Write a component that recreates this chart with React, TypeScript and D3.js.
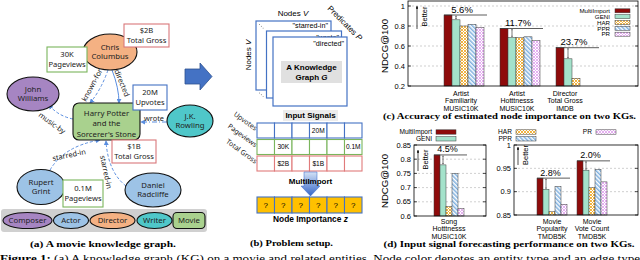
import React from "react";
import * as d3 from "d3";

// ---- chart data ----
const seriesNames = ["MultiImport", "GENI", "HAR", "PPR", "PR"];
const seriesFill = ["#8e0b0b", "#a4e2cb", "url(#pHAR)", "url(#pPPR)", "url(#pPR)"];

const accCategories = [
  ["Artist", "Familiarity", "MUSIC10K"],
  ["Artist", "Hotttnesss", "MUSIC10K"],
  ["Director", "Total Gross", "IMDB"],
];
const accMultiImport = [0.91, 0.775, 0.583];
const accGENI = [0.862, 0.685, 0.472];
const accHAR = [0.8, 0.683, 0.277];
const accPPR = [0.817, 0.692, NaN];
const accPR = [0.785, 0.655, NaN];
const accGain = ["5.6%", "11.7%", "23.7%"];
const accTicks = [0.2, 0.4, 0.6, 0.8, 1];

const songCategories = [["Song", "Hotttnesss", "MUSIC10K"]];
const songMultiImport = [0.815];
const songGENI = [0.78];
const songHAR = [0.633];
const songPPR = [0.75];
const songPR = [0.627];
const songGain = ["4.5%"];
const songTicks = [0.6, 0.65, 0.7, 0.75, 0.8, 0.85];

const movieCategories = [
  ["Movie", "Popularity", "TMDB5K"],
  ["Movie", "Vote Count", "TMDB5K"],
];
const movieMultiImport = [0.929, 0.966];
const movieGENI = [0.905, 0.946];
const movieHAR = [0.857, 0.909];
const moviePPR = [0.911, 0.948];
const moviePR = [0.873, 0.921];
const movieGain = ["2.8%", "2.0%"];
const movieTicks = [0.85, 0.9, 0.95, 1];

// ---- problem setup data ----
const signalNames = ["Upvotes", "Pageviews", "Total Gross"];
const upvotesRow = ["", "", "", "20M", "", ""];
const pageviewsRow = ["", "30K", "", "", "", "0.1M"];
const grossRow = ["", "$2B", "", "$1B", "", ""];
const importanceRow = ["?", "?", "?", "?", "?", "?"];

const SANS = "Liberation Sans, Arial, sans-serif";
const NODE = "Noto Sans, Open Sans, sans-serif";
const SERIF = "Liberation Serif, Times New Roman, serif";
const BLUE = "#4472c4";
const EDGE = "#5a8ee0";

function BarPanel({ cats, series, gains, ticks, band, pi, po, yDomain, frame, labelShift, better, catY, gainSize }) {
  const x0 = d3.scaleBand().domain(cats.map((_, i) => String(i))).range(band).paddingInner(pi).paddingOuter(po);
  const x1 = d3.scaleBand().domain(seriesNames).range([0, x0.bandwidth()]);
  const y = d3.scaleLinear().domain(yDomain).range([frame.y1, frame.y0 + (frame.top || 0)]);
  const fmt = (v) => String(+v.toFixed(2));
  return (
    <g fontFamily={SANS}>
      {ticks.map((t) => (
        <g key={t}>
          {y(t) > frame.y0 + 1 && y(t) < frame.y1 - 1 && (
            <line x1={frame.x0} x2={frame.x1} y1={y(t)} y2={y(t)} stroke="#b0b0b0" strokeWidth={0.6} strokeDasharray="2 2" />
          )}
          <line x1={frame.x0} x2={frame.x0 + 3} y1={y(t)} y2={y(t)} stroke="#000" strokeWidth={0.7} />
          <line x1={frame.x1 - 3} x2={frame.x1} y1={y(t)} y2={y(t)} stroke="#000" strokeWidth={0.7} />
          <text x={frame.x0 - 3} y={y(t)} dy="0.35em" textAnchor="end" fontSize={7.5}>{fmt(t)}</text>
        </g>
      ))}
      {cats.map((cat, i) => {
        const gx = x0(String(i));
        const present = series.filter((s) => !isNaN(s[i])).length;
        const cx = gx + (x1.step() * present) / 2 + labelShift;
        const mi = series[0][i];
        const ge = series[1][i];
        const ax = gx + x1("GENI") + x1.bandwidth() / 2;
        return (
          <g key={i}>
            {series.map((s, k) =>
              isNaN(s[i]) ? null : (
                <rect key={k} x={gx + x1(seriesNames[k])} y={y(s[i])} width={x1.bandwidth()} height={frame.y1 - y(s[i])}
                  fill={seriesFill[k]} stroke="#3a3a3a" strokeWidth={0.5} />
              )
            )}
            <line x1={gx} x2={gx + x0.bandwidth() + 3} y1={y(mi)} y2={y(mi)} stroke="#333" strokeWidth={0.8} />
            <line x1={ax} x2={ax} y1={y(mi) + 0.6} y2={y(ge) - 0.6} stroke="#222" strokeWidth={0.6}
              markerStart="url(#tipUp)" markerEnd="url(#tipDown)" />
            <text x={gx + x0.bandwidth() * 0.45} y={y(mi) - 2.5} textAnchor="middle" fontSize={gainSize}>{gains[i]}</text>
            {cat.map((line, j) => (
              <text key={j} x={cx} y={catY + j * 7.6} textAnchor="middle" fontSize={7}>{line}</text>
            ))}
          </g>
        );
      })}
      <rect x={frame.x0} y={frame.y0} width={frame.x1 - frame.x0} height={frame.y1 - frame.y0} fill="none" stroke="#000" strokeWidth={0.8} />
      <line x1={better.x} x2={better.x} y1={better.y1} y2={better.y0 + 2} stroke="#000" strokeWidth={0.7} markerEnd="url(#tipUpBig)" />
      <text transform={`translate(${better.x + 7},${(better.y0 + better.y1) / 2}) rotate(-90)`} textAnchor="middle" dy="0.35em" fontSize={7.5}>Better</text>
    </g>
  );
}

function Swatch({ x, y, w, h, k }) {
  return <rect x={x} y={y - h / 2} width={w} height={h} fill={seriesFill[k]} stroke="#3a3a3a" strokeWidth={0.5} />;
}

function Ell({ cx, cy, rx, ry, fill, lines, size = 7.8, dy = 9.5 }) {
  const start = cy - ((lines.length - 1) * dy) / 2;
  return (
    <g>
      <ellipse cx={cx} cy={cy} rx={rx} ry={ry} fill={fill} stroke="#111" strokeWidth={1.1} />
      {lines.map((l, i) => (
        <text key={i} x={cx} y={start + i * dy} dy="0.35em" textAnchor="middle" fontSize={size} fill="#222">{l}</text>
      ))}
    </g>
  );
}

function Box({ x, y, w, h, stroke, lines }) {
  const cy = y + h / 2;
  return (
    <g>
      <rect x={x} y={y} width={w} height={h} fill="#fff" stroke={stroke} strokeWidth={1.1} />
      {lines.map((l, i) => (
        <text key={i} x={x + w / 2} y={cy + (i - (lines.length - 1) / 2) * 10} dy="0.35em" textAnchor="middle" fontSize={7.6} fill="#222">{l}</text>
      ))}
    </g>
  );
}

function EdgeLabel({ x, y, rot, text }) {
  return (
    <text transform={`translate(${x},${y}) rotate(${rot})`} textAnchor="middle" dy="0.35em" fontSize={7.4} fill="#222">{text}</text>
  );
}

export default function App() {
  const rows = [upvotesRow, pageviewsRow, grossRow];
  const rowColors = [BLUE, "#7ab55c", "#e07b7b"];
  const rowY = [123, 139.5, 156];
  const cellW = 17.5;
  const tableX = d3.scaleLinear().domain([0, 6]).range([257, 362]);

  return (
    <svg width={640} height={260} style={{ position: "absolute", left: 0, top: 0, background: "#fff" }} fontFamily={NODE}>
      <defs>
        <pattern id="pHAR" width="3" height="3" patternUnits="userSpaceOnUse">
          <rect width="3" height="3" fill="#fff" />
          <path d="M0,0 L3,3 M3,0 L0,3" stroke="#f0ad2e" strokeWidth="0.9" />
        </pattern>
        <pattern id="pPPR" width="3" height="3" patternUnits="userSpaceOnUse" patternTransform="rotate(-45)">
          <rect width="3" height="3" fill="#fff" />
          <line x1="0.8" y1="0" x2="0.8" y2="3" stroke="#6aa3da" strokeWidth="1.3" />
        </pattern>
        <pattern id="pPR" width="3" height="3" patternUnits="userSpaceOnUse">
          <rect width="3" height="3" fill="#fff" />
          <path d="M0,0 L3,3 M3,0 L0,3" stroke="#e2a6ef" strokeWidth="0.9" />
        </pattern>
        <marker id="ah" viewBox="0 0 6 6" refX="5" refY="3" markerWidth="5" markerHeight="5" orient="auto">
          <path d="M0,0 L6,3 L0,6 z" fill={EDGE} />
        </marker>
        <marker id="tipUp" viewBox="0 0 4 4" refX="2" refY="0" markerWidth="3" markerHeight="3" orient="0">
          <path d="M0,3 L2,0 L4,3" fill="none" stroke="#222" strokeWidth="0.8" />
        </marker>
        <marker id="tipDown" viewBox="0 0 4 4" refX="2" refY="4" markerWidth="3" markerHeight="3" orient="0">
          <path d="M0,1 L2,4 L4,1" fill="none" stroke="#222" strokeWidth="0.8" />
        </marker>
        <marker id="tipUpBig" viewBox="0 0 4 4" refX="2" refY="0" markerWidth="4" markerHeight="4" orient="0">
          <path d="M0,4 L2,0 L4,4 z" fill="#000" />
        </marker>
        <linearGradient id="downGrad" x1="0" y1="0" x2="0" y2="1">
          <stop offset="0" stopColor="#d3e2f6" />
          <stop offset="1" stopColor="#3566c8" />
        </linearGradient>
      </defs>

      {/* ---------- (a) knowledge graph ---------- */}
      <g>
        <path d="M108,70 Q101,90 90,103" fill="none" stroke={EDGE} strokeWidth={1} strokeDasharray="3 2" markerEnd="url(#ah)" />
        <path d="M112,70 Q119,88 119,103" fill="none" stroke={EDGE} strokeWidth={1} markerEnd="url(#ah)" />
        <path d="M73,119 Q58,116 49,105" fill="none" stroke={EDGE} strokeWidth={1} strokeDasharray="3 2" markerEnd="url(#ah)" />
        <path d="M167,122 L141,122" fill="none" stroke={EDGE} strokeWidth={1} strokeDasharray="5 2 1 2" markerEnd="url(#ah)" />
        <path d="M50,170 Q64,146 100,140" fill="none" stroke={EDGE} strokeWidth={1} strokeDasharray="3 2" markerEnd="url(#ah)" />
        <path d="M126,186 Q108,172 106,141" fill="none" stroke={EDGE} strokeWidth={1} strokeDasharray="3 2" markerEnd="url(#ah)" />

        <EdgeLabel x={92} y={85} rot={-62} text="known-for" />
        <EdgeLabel x={122} y={83} rot={68} text="directed" />
        <EdgeLabel x={52} y={123} rot={36} text="music-by" />
        <EdgeLabel x={154} y={118} rot={0} text="wrote" />
        <EdgeLabel x={69} y={155} rot={-12} text="starred-in" />
        <EdgeLabel x={106} y={172} rot={78} text="starred-in" />

        <Ell cx={110} cy={52} rx={27} ry={18} fill="#f4b183" lines={["Chris", "Columbus"]} />
        <Ell cx={33} cy={94} rx={26} ry={17} fill="#a685c2" lines={["John", "Williams"]} />
        <Ell cx={190} cy={121} rx={23} ry={16} fill="#4fc7c9" lines={["J.K.", "Rowling"]} />
        <Ell cx={41} cy={187} rx={24} ry={17.5} fill="#9dc3e6" lines={["Rupert", "Grint"]} />
        <Ell cx={153} cy={190} rx={28} ry={17} fill="#9dc3e6" lines={["Daniel", "Radcliffe"]} />

        <rect x={73} y={103} width={67} height={37} rx={6} fill="#a9d18e" stroke="#111" strokeWidth={1.1} />
        {["Harry Potter", "and the", "Sorcerer's Stone"].map((l, i) => (
          <text key={i} x={106.5} y={113 + i * 10.5} dy="0.35em" textAnchor="middle" fontSize={7.8} fill="#222">{l}</text>
        ))}

        <Box x={124} y={24} w={45} h={23} stroke="#d9777a" lines={["$2B", "Total Gross"]} />
        <Box x={47} y={47} w={40} h={25} stroke="#7ab55c" lines={["30K", "Pageviews"]} />
        <Box x={133} y={85} w={34} h={25} stroke={BLUE} lines={["20M", "Upvotes"]} />
        <Box x={112} y={140} w={44} h={23} stroke="#d9777a" lines={["$1B", "Total Gross"]} />
        <Box x={63} y={180} w={40} h={27} stroke="#7ab55c" lines={["0.1M", "Pageviews"]} />

        <rect x={1} y={209} width={206} height={23} rx={3} fill="#d0d0d0" />
        <Ell cx={27.5} cy={220.5} rx={24.5} ry={8} fill="#a685c2" lines={["Composer"]} size={7.8} />
        <Ell cx={71} cy={220.5} rx={17.5} ry={8} fill="#9dc3e6" lines={["Actor"]} size={7.8} />
        <Ell cx={112.5} cy={220.5} rx={22.5} ry={8} fill="#f4b183" lines={["Director"]} size={7.8} />
        <Ell cx={154.5} cy={220.5} rx={17.5} ry={8} fill="#4fc7c9" lines={["Writer"]} size={7.8} />
        <rect x={173} y={212.5} width={32} height={16} rx={4} fill="#a9d18e" stroke="#111" strokeWidth={1.1} />
        <text x={189} y={220.5} dy="0.35em" textAnchor="middle" fontSize={7.8} fill="#222">Movie</text>

        <text x={103} y={247} textAnchor="middle" fontFamily={SERIF} fontWeight="bold" fontSize={9} textLength={146} lengthAdjust="spacingAndGlyphs">(a) A movie knowledge graph.</text>
      </g>

      {/* big arrow */}
      <polygon points="185,69 200,69 200,63 212,76.5 200,90 200,84 185,84" fill={BLUE} stroke="#2f528f" strokeWidth={0.8} />

      {/* ---------- (b) problem setup ---------- */}
      <g>
        <text x={293} y={13} dy="0.35em" textAnchor="middle" fontSize={8} fontFamily={SANS}>Nodes <tspan fontStyle="italic">V</tspan></text>
        <text transform="translate(248,55) rotate(-90)" textAnchor="middle" dy="0.35em" fontSize={8} fontFamily={SANS}>Nodes <tspan fontStyle="italic">V</tspan></text>
        <text transform="translate(345,23) rotate(45)" textAnchor="middle" dy="0.35em" fontSize={8} fontFamily={SANS}>Predicates <tspan fontStyle="italic">P</tspan></text>

        <rect x={256} y={21} width={75} height={69} fill="#fff" stroke={BLUE} strokeWidth={1.2} />
        <text x={328} y={28} textAnchor="end" fontSize={7.2} fontFamily={SANS}>"starred-in"</text>
        <rect x={266.5} y={31} width={75} height={67} fill="#fff" stroke={BLUE} strokeWidth={1.2} />
        <text x={339} y={39.5} textAnchor="end" fontSize={7.2} fontFamily={SANS}>"wrote"</text>
        <rect x={273} y={37} width={74} height={69} fill="#fff" stroke={BLUE} strokeWidth={1.2} />
        <text x={344} y={46} textAnchor="end" fontSize={7.2} fontFamily={SANS}>"directed"</text>
        {[0, 1, 2].map((i) => (
          <g key={i}>
            <circle cx={259.5 + i * 1.8} cy={24.5 + i * 1.8} r={0.45} fill="#333" />
            <circle cx={259.5 + i * 1.8} cy={93 + i * 1.8} r={0.45} fill="#333" />
          </g>
        ))}
        <rect x={281} y={61} width={61} height={22} fill="#e0e0e0" />
        <text x={311.5} y={67} dy="0.35em" textAnchor="middle" fontSize={8} fontWeight="bold" fontFamily={SANS}>A Knowledge</text>
        <text x={311.5} y={77.5} dy="0.35em" textAnchor="middle" fontSize={8} fontWeight="bold" fontFamily={SANS}>Graph <tspan fontStyle="italic">G</tspan></text>

        <rect x={283} y={110} width={55} height={11} fill="#ececec" />
        <text x={310.5} y={115.5} dy="0.35em" textAnchor="middle" fontSize={8} fontWeight="bold" fontFamily={SANS}>Input Signals</text>

        {rows.map((row, r) => (
          <g key={r}>
            <text transform={`translate(255,${rowY[r] + 8}) rotate(36)`} textAnchor="end" fontSize={7} fill="#222">{signalNames[r]}</text>
            {row.map((v, c) => (
              <g key={c}>
                <rect x={tableX(c)} y={rowY[r]} width={cellW} height={15} fill="#fff" stroke={rowColors[r]} strokeWidth={1.1} />
                {v && <text x={tableX(c) + cellW / 2} y={rowY[r] + 7.5} dy="0.35em" textAnchor="middle" fontSize={6.6} fontFamily={SANS}>{v}</text>}
              </g>
            ))}
          </g>
        ))}

        <polygon points="304,172 317,172 317,186 320,186 310.5,196 301,186 304,186" fill="url(#downGrad)" stroke="#3566c8" strokeWidth={0.5} />
        <text x={310.5} y={181} dy="0.35em" textAnchor="middle" fontSize={8} fontWeight="bold" fontFamily={SANS}>MultiImport</text>

        {importanceRow.map((v, c) => (
          <g key={c}>
            <rect x={tableX(c)} y={197} width={cellW} height={16} fill="#ffc000" stroke={BLUE} strokeWidth={1.1} />
            <text x={tableX(c) + cellW / 2} y={205} dy="0.35em" textAnchor="middle" fontSize={8} fontFamily={SANS}>{v}</text>
          </g>
        ))}
        <text x={310.5} y={219.5} dy="0.35em" textAnchor="middle" fontSize={8.4} fontWeight="bold" fontFamily={SANS}>Node Importance <tspan fontStyle="italic">z</tspan></text>

        <text x={291.5} y={246} textAnchor="middle" fontFamily={SERIF} fontWeight="bold" fontSize={9} textLength={83} lengthAdjust="spacingAndGlyphs">(b) Problem setup.</text>
      </g>

      {/* ---------- (c) accuracy chart ---------- */}
      <text transform="translate(385,46) rotate(-90)" textAnchor="middle" dy="0.35em" fontFamily={SANS} fontSize={8.5} textLength={54} lengthAdjust="spacingAndGlyphs">NDCG@100</text>
      <BarPanel
        cats={accCategories}
        series={[accMultiImport, accGENI, accHAR, accPPR, accPR]}
        gains={accGain}
        ticks={accTicks}
        band={[436, 604]}
        pi={16 / 56}
        po={8 / 56}
        yDomain={[0.2, 1]}
        frame={{ x0: 408, x1: 638, y0: 1, y1: 86, top: 5 }}
        labelShift={-3}
        better={{ x: 417, y0: 4, y1: 29 }}
        catY={95.5}
        gainSize={9.5}
      />
      <g fontFamily={SANS} fontSize={6.2}>
        {seriesNames.map((s, k) => (
          <g key={s}>
            <text x={610} y={10.8 + k * 5.85} dy="0.35em" textAnchor="end">{s}</text>
            <Swatch x={615} y={10.8 + k * 5.85} w={15} h={4} k={k} />
          </g>
        ))}
      </g>
      <text x={509.5} y={119} textAnchor="middle" fontFamily={SERIF} fontWeight="bold" fontSize={9} textLength={253} lengthAdjust="spacingAndGlyphs">(c) Accuracy of estimated node importance on two KGs.</text>

      {/* ---------- (d) forecasting charts ---------- */}
      <g fontFamily={SANS} fontSize={6.6}>
        {seriesNames.map((s, k) => {
          const col = [0, 0, 1, 1, 2][k];
          const row = [0, 1, 0, 1, 0][k];
          const tx = [432, 512, 592][col];
          const yy = 132 + row * 6.8;
          return (
            <g key={s}>
              <text x={tx} y={yy} dy="0.35em" textAnchor="end">{s}</text>
              <Swatch x={tx + 4} y={yy} w={20} h={4.4} k={k} />
            </g>
          );
        })}
      </g>
      <text transform="translate(385,181) rotate(-90)" textAnchor="middle" dy="0.35em" fontFamily={SANS} fontSize={8.5} textLength={54} lengthAdjust="spacingAndGlyphs">NDCG@100</text>
      <BarPanel
        cats={songCategories}
        series={[songMultiImport, songGENI, songHAR, songPPR, songPR]}
        gains={songGain}
        ticks={songTicks}
        band={[430, 468]}
        pi={0}
        po={4 / 30}
        yDomain={[0.6, 0.85]}
        frame={{ x0: 414, x1: 486, y0: 145, y1: 216 }}
        labelShift={0}
        better={{ x: 418, y0: 148, y1: 171 }}
        catY={223.5}
        gainSize={9}
      />
      <BarPanel
        cats={movieCategories}
        series={[movieMultiImport, movieGENI, movieHAR, moviePPR, moviePR]}
        gains={movieGain}
        ticks={movieTicks}
        band={[532, 612]}
        pi={0.25}
        po={0.125}
        yDomain={[0.85, 1]}
        frame={{ x0: 514, x1: 638, y0: 145, y1: 215 }}
        labelShift={0}
        better={{ x: 518, y0: 145, y1: 165 }}
        catY={223.5}
        gainSize={9}
      />
      <text x={509} y={247} textAnchor="middle" fontFamily={SERIF} fontWeight="bold" fontSize={9} textLength={251} lengthAdjust="spacingAndGlyphs">(d) Input signal forecasting performance on two KGs.</text>

      <text x={0} y={262} fontFamily={SERIF} fontSize={10.5} textLength={640} lengthAdjust="spacingAndGlyphs"><tspan fontWeight="bold">Figure 1:</tspan> (a) A knowledge graph (KG) on a movie and related entities. Node color denotes an entity type and an edge type</text>
    </svg>
  );
}
